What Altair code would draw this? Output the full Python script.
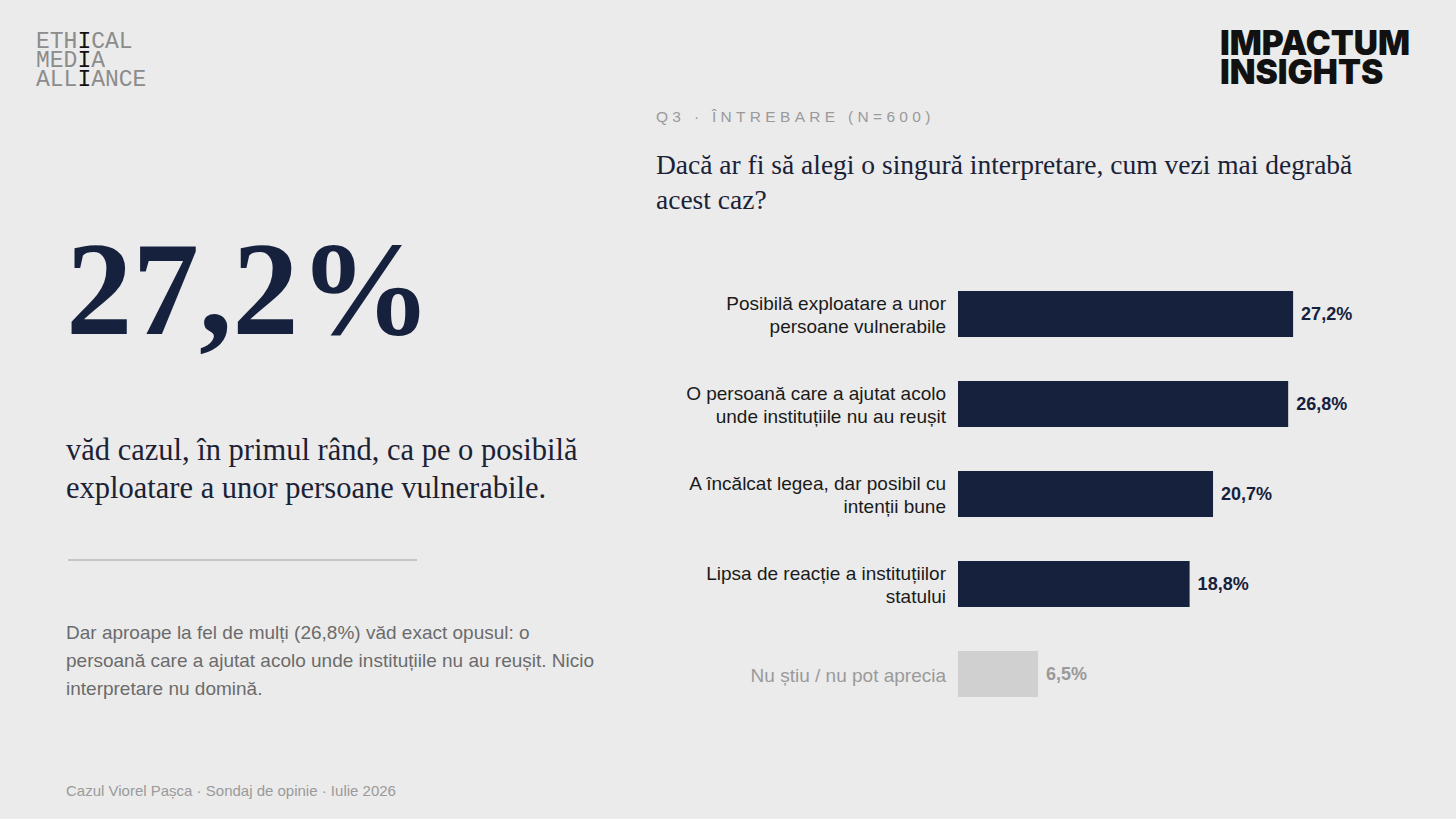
import altair as alt
import pandas as pd

# Survey answers, Q3 (N=600)
categories = [
    "Posibilă exploatare a unor persoane vulnerabile",
    "O persoană care a ajutat acolo unde instituțiile nu au reușit",
    "A încălcat legea, dar posibil cu intenții bune",
    "Lipsa de reacție a instituțiilor statului",
    "Nu știu / nu pot aprecia",
]
label_text = [
    "Posibilă exploatare a unor\npersoane vulnerabile",
    "O persoană care a ajutat acolo\nunde instituțiile nu au reușit",
    "A încălcat legea, dar posibil cu\nintenții bune",
    "Lipsa de reacție a instituțiilor\nstatului",
    "Nu știu / nu pot aprecia",
]
shares = [27.2, 26.8, 20.7, 18.8, 6.5]
groups = ["main", "main", "main", "main", "muted"]

df = pd.DataFrame({
    "category": categories,
    "label": label_text,
    "share": shares,
    "group": groups,
})
df["share_text"] = df["share"].map(lambda v: f"{v:.1f}".replace(".", ",") + "%")

W, H = 1456, 819
BG = "#ebebeb"
NAVY = "#16213d"
SANS = "Liberation Sans"
SERIF = "Liberation Serif"

x_scale = alt.Scale(domain=[0, 40], range=[958, 958 + 40 * 12.32], zero=True)
y_scale = alt.Scale(domain=categories, range=[269, 719],
                    paddingInner=0.489, paddingOuter=0.2445)
y_enc = alt.Y("category:N", sort=categories, scale=y_scale, axis=None)

base = alt.Chart(df)
muted = "datum.group == 'muted'"
multiline = "indexof(datum.label, '\\n') >= 0"

bars = base.mark_bar().encode(
    x=alt.X("share:Q", scale=x_scale, axis=None),
    y=y_enc,
    color=alt.condition(muted, alt.value("#d0d0d0"), alt.value(NAVY)),
)


def category_labels(test, dy):
    return base.transform_filter(test).mark_text(
        align="right", baseline="middle", font=SANS, fontSize=19,
        lineBreak="\n", lineHeight=23, dy=dy,
    ).encode(
        x=alt.value(946),
        y=y_enc,
        text="label:N",
        color=alt.condition(muted, alt.value("#9a9a9a"), alt.value("#1a1a1a")),
    )


labels_two = category_labels(multiline, -10.5)
labels_one = category_labels("!(" + multiline + ")", 1.5)

value_text = base.mark_text(
    align="left", baseline="middle", dx=8, dy=1, font=SANS, fontSize=18, fontWeight="bold",
).encode(
    x=alt.X("share:Q", scale=x_scale, axis=None),
    y=y_enc,
    text="share_text:N",
    color=alt.condition(muted, alt.value("#9a9a9a"), alt.value(NAVY)),
)


def note(text, x, y, size, color, font=SANS, weight="normal", line_height=None,
         align="left", baseline="alphabetic"):
    props = dict(text=text, font=font, fontSize=size, fontWeight=weight,
                 color=color, align=align, baseline=baseline)
    if line_height is not None:
        props["lineHeight"] = line_height
    return alt.Chart(alt.Data(values=[{}])).mark_text(**props).encode(
        x=alt.value(x), y=alt.value(y)
    )


# Logo: monospaced wordmark, drawn as three columns so the shared "I" is black
MONO = "Liberation Mono"
mono_size = 23
mono_adv = 0.6 * mono_size
logo_rows = ["ETHICAL", "MEDIA", "ALLIANCE"]
col = 3
logo_layers = [
    note([w[:col] for w in logo_rows], 36, 48, mono_size, "#8c8c8c",
         font=MONO, line_height=19),
    note([w[col] for w in logo_rows], 36 + col * mono_adv, 48, mono_size, "#111111",
         font=MONO, line_height=19),
    note([w[col + 1:] for w in logo_rows], 36 + (col + 1) * mono_adv, 48, mono_size,
         "#8c8c8c", font=MONO, line_height=19),
]

brand = note(["IMPACTUM", "INSIGHTS"], 1220, 55, 33.5, "#111111", font="Inter",
             weight=900, line_height=28.5)

# letter-spaced kicker (no-break spaces keep the gaps in SVG)
kicker = note("\u00a0".join(list("Q3 · ÎNTREBARE (N=600)")), 656, 122, 15.5, "#9a9a9a")

question = note(
    ["Dacă ar fi să alegi o singură interpretare, cum vezi mai degrabă", "acest caz?"],
    656, 174, 27.5, "#1a2238", font=SERIF, line_height=35,
)

big_number = note("27,2%", 66, 334, 133, NAVY, font=SERIF, weight="bold")

headline = note(
    ["văd cazul, în primul rând, ca pe o posibilă",
     "exploatare a unor persoane vulnerabile."],
    66, 460, 30.5, "#1c2235", font=SERIF, line_height=38,
)

divider = alt.Chart(alt.Data(values=[{}])).mark_rule(
    color="#b8b8b8", strokeWidth=1.5
).encode(x=alt.value(68), x2=alt.value(417), y=alt.value(560))

body = note(
    ["Dar aproape la fel de mulți (26,8%) văd exact opusul: o",
     "persoană care a ajutat acolo unde instituțiile nu au reușit. Nicio",
     "interpretare nu domină."],
    66, 639, 19, "#6b6b6b", line_height=28,
)

footer = note("Cazul Viorel Pașca · Sondaj de opinie · Iulie 2026", 66, 796, 15, "#9a9a9a")

chart = alt.layer(
    bars, labels_two, labels_one, value_text,
    *logo_layers, brand, kicker, question, big_number, headline, divider, body, footer,
).properties(
    width=W, height=H, background=BG, padding=0,
    autosize=alt.AutoSizeParams(type="none"),
).configure_view(stroke=None)

chart.save("out.html", embed_options={"renderer": "svg", "actions": False})
